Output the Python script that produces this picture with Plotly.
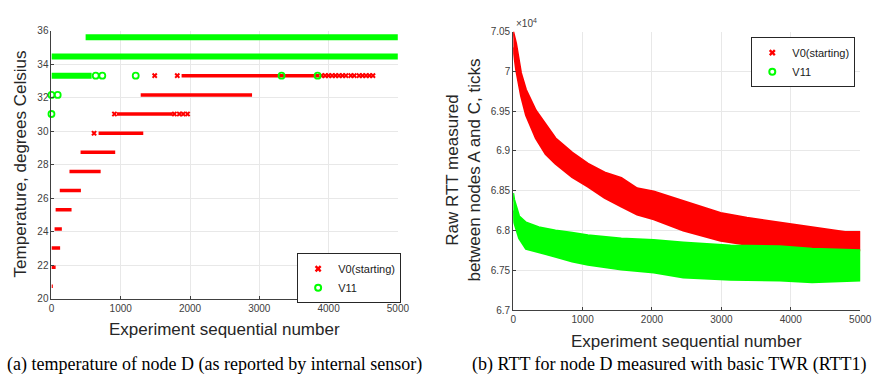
import plotly.graph_objects as go

# ---------------- Data: (a) temperature of node D ----------------
# V0(starting): quantized temperature levels and the experiment ranges where they were reported
red_levels = [20.74, 21.88, 23.03, 24.17, 25.32, 26.46, 27.61, 28.75, 29.89, 31.04, 32.18, 33.33]
red_start = [0, 0, 0, 45, 60, 120, 260, 420, 680, 945, 1288, 1878]
red_end = [20, 60, 125, 150, 290, 425, 710, 920, 1325, 1750, 2895, 3868]
# V0 isolated / sparse readings
red_pts_x = [615, 909, 1774, 1845, 1901, 1964, 1490, 1816,
             3900, 3950, 4000, 4050, 4100, 4150, 4200, 4250, 4320, 4370, 4440, 4490, 4540, 4590, 4640]
red_pts_y = [29.89, 31.04, 31.04, 31.04, 31.04, 31.04, 33.33, 33.33,
             33.33, 33.33, 33.33, 33.33, 33.33, 33.33, 33.33, 33.33, 33.33, 33.33, 33.33, 33.33, 33.33, 33.33, 33.33]
# V11: levels and ranges
green_levels = [33.33, 34.47, 35.62]
green_start = [0, 0, 493]
green_end = [580, 5000, 5000]
green_pts_x = [0, 0, 90, 639, 734, 1216, 3321, 3841]
green_pts_y = [31.04, 32.18, 32.18, 33.33, 33.33, 33.33, 33.33, 33.33]

# ---------------- Data: (b) raw RTT (x1e4 ticks) ----------------
red_rtt_x = [0, 42, 113, 184, 326, 467, 609, 850, 1076, 1317, 1558, 1785, 2025, 2450, 2989, 3367, 3839, 4306, 4783, 5000]
red_rtt_upper = [7.050, 7.035, 6.998, 6.977, 6.951, 6.933, 6.916, 6.898, 6.884, 6.873, 6.866, 6.853, 6.849, 6.837,
                 6.822, 6.816, 6.810, 6.804, 6.798, 6.798]
red_rtt_lower = [7.030, 7.002, 6.969, 6.945, 6.916, 6.896, 6.884, 6.867, 6.855, 6.841, 6.830, 6.820, 6.814, 6.800,
                 6.787, 6.782, 6.777, 6.775, 6.775, 6.775]
green_rtt_x = [0, 14, 85, 184, 368, 609, 850, 1076, 1558, 2025, 2450, 2890, 3130, 3839, 4306, 5000]
green_rtt_upper = [6.847, 6.839, 6.818, 6.810, 6.804, 6.800, 6.797, 6.794, 6.790, 6.788, 6.785, 6.783, 6.781, 6.780,
                   6.777, 6.775]
green_rtt_lower = [6.825, 6.810, 6.790, 6.777, 6.773, 6.767, 6.761, 6.757, 6.751, 6.747, 6.741, 6.739, 6.738, 6.737,
                   6.735, 6.737]

x_ticks = [0, 1000, 2000, 3000, 4000, 5000]
temp_ticks = [20, 22, 24, 26, 28, 30, 32, 34, 36]
rtt_ticks = [6.7, 6.75, 6.8, 6.85, 6.9, 6.95, 7.0, 7.05]
rtt_ticktext = ["6.7", "6.75", "6.8", "6.85", "6.9", "6.95", "7", "7.05"]

RED = "#ff0000"
GREEN = "#00ff00"
SANS = "Liberation Sans, Arial, sans-serif"
SERIF = "Liberation Serif, Times New Roman, serif"
AX = "#404040"
GRID = "#e8e8e8"


def segs(levels, starts, ends):
    xs, ys = [], []
    for lv, s, e in zip(levels, starts, ends):
        xs += [s, e, None]
        ys += [lv, lv, None]
    return xs, ys


fig = go.Figure()

# ---- left panel ----
rx, ry = segs(red_levels, red_start, red_end)
fig.add_trace(go.Scatter(x=rx, y=ry, mode="lines", line=dict(color=RED, width=3.5),
                         showlegend=False, cliponaxis=False, xaxis="x", yaxis="y"))
fig.add_trace(go.Scatter(x=red_pts_x, y=red_pts_y, mode="markers",
                         marker=dict(symbol="x", size=5, color=RED, line=dict(width=0)),
                         showlegend=False, cliponaxis=False, xaxis="x", yaxis="y"))
gx, gy = segs(green_levels, green_start, green_end)
fig.add_trace(go.Scatter(x=gx, y=gy, mode="lines", line=dict(color=GREEN, width=6),
                         showlegend=False, cliponaxis=False, xaxis="x", yaxis="y"))
fig.add_trace(go.Scatter(x=green_pts_x, y=green_pts_y, mode="markers",
                         marker=dict(symbol="circle-open", size=6, color=GREEN, line=dict(width=1.8)),
                         showlegend=False, cliponaxis=False, xaxis="x", yaxis="y"))
# legend entries (left)
fig.add_trace(go.Scatter(x=[None], y=[None], mode="markers", name="V0(starting)",
                         marker=dict(symbol="x", size=6, color=RED, line=dict(width=0)),
                         legend="legend", xaxis="x", yaxis="y"))
fig.add_trace(go.Scatter(x=[None], y=[None], mode="markers", name="V11",
                         marker=dict(symbol="circle-open", size=6, color=GREEN, line=dict(width=2)),
                         legend="legend", xaxis="x", yaxis="y"))

# ---- right panel ----
fig.add_trace(go.Scatter(x=red_rtt_x + red_rtt_x[::-1], y=red_rtt_upper + red_rtt_lower[::-1],
                         fill="toself", fillcolor=RED, mode="lines", line=dict(color=RED, width=2),
                         showlegend=False, cliponaxis=False, xaxis="x2", yaxis="y2"))
fig.add_trace(go.Scatter(x=green_rtt_x + green_rtt_x[::-1], y=green_rtt_upper + green_rtt_lower[::-1],
                         fill="toself", fillcolor=GREEN, mode="lines", line=dict(color=GREEN, width=2),
                         showlegend=False, cliponaxis=False, xaxis="x2", yaxis="y2"))
fig.add_trace(go.Scatter(x=[None], y=[None], mode="markers", name="V0(starting)",
                         marker=dict(symbol="x", size=6, color=RED, line=dict(width=0)),
                         legend="legend2", xaxis="x2", yaxis="y2"))
fig.add_trace(go.Scatter(x=[None], y=[None], mode="markers", name="V11",
                         marker=dict(symbol="circle-open", size=6, color=GREEN, line=dict(width=2)),
                         legend="legend2", xaxis="x2", yaxis="y2"))

W, H = 884, 378


def px(x):
    return x / W


def py(y):
    return 1 - y / H


axis_common = dict(showgrid=True, gridcolor=GRID, gridwidth=1, zeroline=False,
                   showline=True, linecolor=AX, linewidth=1, mirror=False,
                   ticks="inside", ticklen=3, tickcolor=AX,
                   tickfont=dict(family=SANS, size=10, color=AX))

legend_common = dict(font=dict(family=SANS, size=11, color="#1a1a1a"), bgcolor="white",
                     bordercolor="#262626", borderwidth=1, itemwidth=30, tracegroupgap=0,
                     xanchor="right", yanchor="top", orientation="v")

fig.update_layout(
    width=W, height=H, margin=dict(l=0, r=0, t=0, b=0),
    paper_bgcolor="white", plot_bgcolor="white",
    xaxis=dict(domain=[px(49.3), px(401.7)], range=[0, 5000], tickvals=x_ticks, anchor="y", **axis_common),
    yaxis=dict(domain=[py(301.7), py(26.7)], range=[20, 36], tickvals=temp_ticks, anchor="x", **axis_common),
    xaxis2=dict(domain=[px(519), px(872)], range=[0, 5000], tickvals=x_ticks, anchor="y2", **axis_common),
    yaxis2=dict(domain=[py(313.3), py(27.3)], range=[6.7, 7.05], tickvals=rtt_ticks, ticktext=rtt_ticktext,
                anchor="x2", **axis_common),
    legend=dict(x=px(405), y=py(255), **legend_common),
    legend2=dict(x=px(867), y=py(33), **legend_common),
    showlegend=True,
)

title_font = dict(family=SANS, size=17, color="#262626")
ann = [
    dict(text="Temperature, degrees Celsius", x=px(18), y=py(163), textangle=-90, font=title_font),
    dict(text="Experiment sequential number", x=px(225), y=py(333), font=title_font),
    dict(text="Raw RTT measured<br>between nodes A and C, ticks", x=px(468), y=py(170), textangle=-90,
         font=title_font),
    dict(text="Experiment sequential number", x=px(695), y=py(346), font=title_font),
    dict(text="×10<sup>4</sup>", x=px(520), y=py(19), xanchor="left", font=dict(family=SANS, size=10, color=AX)),
    dict(text="(a) temperature of node D (as reported by internal sensor)", x=px(2), y=py(369), xanchor="left",
         font=dict(family=SERIF, size=18, color="black")),
    dict(text="(b) RTT for node D measured with basic TWR (RTT1)", x=px(475), y=py(369), xanchor="left",
         font=dict(family=SERIF, size=18, color="black")),
]
for a in ann:
    a.setdefault("xanchor", "center")
    fig.add_annotation(xref="paper", yref="paper", showarrow=False, yanchor="middle", **a)

fig.write_html("out.html")
